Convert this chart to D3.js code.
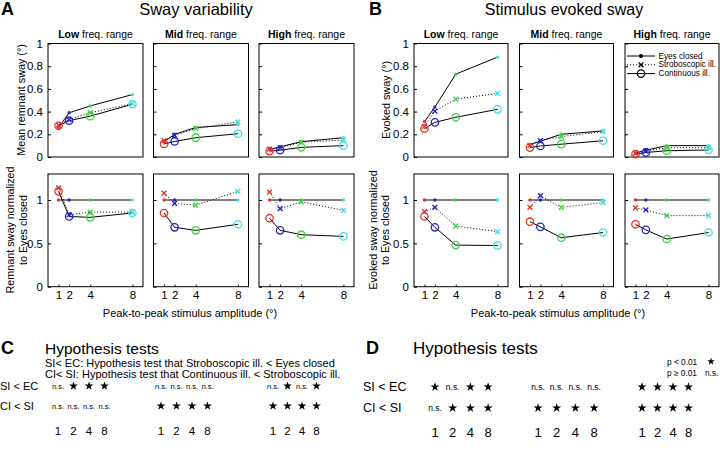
<!DOCTYPE html>
<html><head><meta charset="utf-8">
<script src="https://cdn.jsdelivr.net/npm/d3@7"></script>
<style>body{margin:0;background:#fff}</style>
</head><body><svg id="c" width="720" height="450"></svg>
<script>
// ---------------- DATA ----------------
const amplitudes = [1, 2, 4, 8];
const ampLabels = ["1", "2", "4", "8"];
const ranges = ["Low", "Mid", "High"];
const ampColors = ["#e3342c", "#2424c8", "#3fd23f", "#3ee0e0"];
const conditions = ["Eyes closed", "Stroboscopic ill.", "Continuous ill."];

// A: Sway variability (mean remnant sway, deg) per range [Low, Mid, High], per amplitude
const swayEC = [[0.26, 0.39, 0.45, 0.55], [0.135, 0.20, 0.26, 0.285], [0.065, 0.09, 0.135, 0.17]];
const swaySI = [[0.28, 0.33, 0.39, 0.47], [0.145, 0.19, 0.25, 0.31], [0.07, 0.08, 0.13, 0.15]];
const swayCI = [[0.275, 0.32, 0.36, 0.465], [0.115, 0.137, 0.17, 0.205], [0.052, 0.06, 0.085, 0.10]];
// A: normalized to eyes closed
const normSwayEC = [[1, 1, 1, 1], [1, 1, 1, 1], [1, 1, 1, 1]];
const normSwaySI = [[1.14, 0.83, 0.86, 0.86], [1.08, 0.96, 0.94, 1.10], [1.09, 0.90, 0.98, 0.88]];
const normSwayCI = [[1.10, 0.81, 0.80, 0.85], [0.85, 0.685, 0.65, 0.72], [0.79, 0.65, 0.60, 0.58]];

// B: Stimulus evoked sway (deg)
const evokedEC = [[0.31, 0.44, 0.73, 0.88], [0.11, 0.14, 0.20, 0.23], [0.035, 0.06, 0.10, 0.10]];
const evokedSI = [[0.27, 0.405, 0.51, 0.56], [0.10, 0.145, 0.18, 0.223], [0.032, 0.053, 0.082, 0.082]];
const evokedCI = [[0.25, 0.305, 0.35, 0.42], [0.083, 0.097, 0.113, 0.143], [0.025, 0.04, 0.055, 0.062]];
// B: normalized
const normEvokedEC = [[1, 1, 1, 1], [1, 1, 1, 1], [1, 1, 1, 1]];
const normEvokedSI = [[0.865, 0.915, 0.70, 0.635], [0.915, 1.05, 0.915, 0.97], [0.91, 0.885, 0.82, 0.82]];
const normEvokedCI = [[0.81, 0.685, 0.48, 0.475], [0.75, 0.69, 0.565, 0.625], [0.72, 0.655, 0.55, 0.625]];

const topTicks = [0, 0.2, 0.4, 0.6, 0.8, 1];
const topTickLabels = ["0", "0.2", "0.4", "0.6", "0.8", "1"];
const normTicks = [0, 0.5, 1];
const normTickLabels = ["0", "0.5", "1"];

// Hypothesis tests (per range, per amplitude): "*" = p<0.01, "n.s." = p>=0.01
const testRowLabels = ["SI < EC", "CI < SI"];
const testC_SIEC = [["n.s.", "*", "*", "*"], ["n.s.", "n.s.", "n.s.", "n.s."], ["n.s.", "*", "n.s.", "*"]];
const testC_CISI = [["n.s.", "n.s.", "n.s.", "n.s."], ["*", "*", "*", "*"], ["*", "*", "*", "*"]];
const testD_SIEC = [["*", "n.s.", "*", "*"], ["n.s.", "n.s.", "n.s.", "n.s."], ["*", "*", "*", "*"]];
const testD_CISI = [["n.s.", "*", "*", "*"], ["*", "*", "*", "*"], ["*", "*", "*", "*"]];

// ---------------- DRAWING ----------------
const FONT = '"Liberation Sans", Arial, Helvetica, sans-serif';
const svg = d3.select("#c");

function txt(x, y, s, size, opts = {}) {
  const t = svg.append("text").attr("x", x).attr("y", y).text(s)
    .attr("font-family", FONT).attr("font-size", size).attr("fill", "#000");
  if (opts.anchor) t.attr("text-anchor", opts.anchor);
  if (opts.weight) t.attr("font-weight", opts.weight);
  if (opts.rotate) t.attr("transform", `rotate(-90,${x},${y})`);
  if (opts.baseline) t.attr("dominant-baseline", opts.baseline);
  return t;
}

function drawPanel(px, py, w, h, ymax, ticks, tickLabs, showY, showX, ec, si, ci) {
  const g = svg.append("g");
  const x = d3.scaleLinear().domain([0, 9]).range([px, px + w]);
  const y = d3.scaleLinear().domain([0, ymax]).range([py + h, py]);
  const ya = d3.axisLeft(y).tickValues(ticks).tickSize(-3).tickPadding(5)
    .tickFormat((d, i) => showY ? tickLabs[i] : "");
  g.append("g").attr("transform", `translate(${px},0)`).call(ya)
    .call(s => s.select(".domain").remove())
    .call(s => s.selectAll("text").attr("font-size", 11.5).attr("font-family", FONT).attr("fill", "#000"))
    .call(s => s.selectAll("line").attr("stroke", "#000"));
  if (showX) {
    const xa = d3.axisBottom(x).tickValues(amplitudes).tickSize(-2).tickPadding(4)
      .tickFormat((d, i) => ampLabels[i]);
    g.append("g").attr("transform", `translate(0,${py + h})`).call(xa)
      .call(s => s.select(".domain").remove())
      .call(s => s.selectAll("text").attr("font-size", 11.5).attr("font-family", FONT).attr("fill", "#000"))
      .call(s => s.selectAll("line").attr("stroke", "#000"));
  }
  g.append("rect").attr("x", px).attr("y", py).attr("width", w).attr("height", h)
    .attr("fill", "none").attr("stroke", "#000").attr("stroke-width", 1);
  const line = d3.line().x((d, i) => x(amplitudes[i])).y(d => y(d));
  g.append("path").attr("d", line(ec)).attr("fill", "none").attr("stroke", "#000").attr("stroke-width", 1);
  g.append("path").attr("d", line(si)).attr("fill", "none").attr("stroke", "#000").attr("stroke-width", 1)
    .attr("stroke-dasharray", "1,2");
  g.append("path").attr("d", line(ci)).attr("fill", "none").attr("stroke", "#000").attr("stroke-width", 1);
  // markers
  ec.forEach((v, i) => g.append("circle").attr("cx", x(amplitudes[i])).attr("cy", y(v)).attr("r", 1.7)
    .attr("fill", ampColors[i]));
  si.forEach((v, i) => {
    const cx = x(amplitudes[i]), cy = y(v), r = 2.4;
    g.append("path").attr("d", `M${cx - r},${cy - r}L${cx + r},${cy + r}M${cx - r},${cy + r}L${cx + r},${cy - r}`)
      .attr("stroke", ampColors[i]).attr("stroke-width", 1.4);
  });
  ci.forEach((v, i) => g.append("circle").attr("cx", x(amplitudes[i])).attr("cy", y(v)).attr("r", 3.7)
    .attr("fill", "none").attr("stroke", ampColors[i]).attr("stroke-width", 1.3));
}

const rowTop = { y: 43.5, h: 113.5, max: 1 };
const rowBot = { y: 174, h: 112.7, max: 1.3 };
const sections = [
  { xs: [48, 153.5, 259], w: 95, top: [swayEC, swaySI, swayCI], bot: [normSwayEC, normSwaySI, normSwayCI] },
  { xs: [414, 519.5, 625], w: 94, top: [evokedEC, evokedSI, evokedCI], bot: [normEvokedEC, normEvokedSI, normEvokedCI] }
];
sections.forEach(sec => {
  sec.xs.forEach((px, r) => {
    drawPanel(px, rowTop.y, sec.w, rowTop.h, rowTop.max, topTicks, topTickLabels, r === 0, false,
      sec.top[0][r], sec.top[1][r], sec.top[2][r]);
    drawPanel(px, rowBot.y, sec.w, rowBot.h, rowBot.max, normTicks, normTickLabels, r === 0, true,
      sec.bot[0][r], sec.bot[1][r], sec.bot[2][r]);
    const t = txt(px + sec.w / 2, 38, "", 10.5, { anchor: "middle" });
    t.append("tspan").attr("font-weight", "bold").text(ranges[r]);
    t.append("tspan").text(" freq. range");
  });
});

// titles
txt(1, 15, "A", 18, { weight: "bold" });
txt(196, 14.5, "Sway variability", 16.5, { anchor: "middle" });
txt(369, 15, "B", 18, { weight: "bold" });
txt(564, 14.5, "Stimulus evoked sway", 16, { anchor: "middle" });

// y labels
txt(21, 100, "Mean remnant sway (°)", 10.8, { anchor: "middle", rotate: true, baseline: "central" });
txt(10, 230, "Remnant sway normalized", 10.8, { anchor: "middle", rotate: true, baseline: "central" });
txt(22.5, 230, "to Eyes closed", 10.8, { anchor: "middle", rotate: true, baseline: "central" });
txt(386, 100, "Evoked sway (°)", 10.8, { anchor: "middle", rotate: true, baseline: "central" });
txt(372.5, 230, "Evoked sway normalized", 10.8, { anchor: "middle", rotate: true, baseline: "central" });
txt(385, 230, "to Eyes closed", 10.8, { anchor: "middle", rotate: true, baseline: "central" });

// x labels
txt(190, 317, "Peak-to-peak stimulus amplitude (°)", 11, { anchor: "middle" });
txt(558, 317, "Peak-to-peak stimulus amplitude (°)", 11, { anchor: "middle" });

// legend (in B High top panel)
const legY = [56, 64.8, 73.6];
legY.forEach((ly, i) => {
  const lg = svg.append("g");
  lg.append("line").attr("x1", 627).attr("x2", 655).attr("y1", ly).attr("y2", ly).attr("stroke", "#000")
    .attr("stroke-width", 1).attr("stroke-dasharray", i === 1 ? "1,2" : null);
  const cx = 641;
  if (i === 0) lg.append("circle").attr("cx", cx).attr("cy", ly).attr("r", 2).attr("fill", "#000");
  if (i === 1) lg.append("path").attr("d", `M${cx - 2.4},${ly - 2.4}L${cx + 2.4},${ly + 2.4}M${cx - 2.4},${ly + 2.4}L${cx + 2.4},${ly - 2.4}`)
    .attr("stroke", "#000").attr("stroke-width", 1.3);
  if (i === 2) lg.append("circle").attr("cx", cx).attr("cy", ly).attr("r", 3.7).attr("fill", "none").attr("stroke", "#000").attr("stroke-width", 1.2);
  txt(658.5, ly, conditions[i], 8.2, { baseline: "central" });
});

// hypothesis tests
const star = d3.symbol().type(d3.symbolStar);
function drawTests(data, starts, steps, rowYs, numY, labelX, labelSize, numSize, nsSize, starSize) {
  testRowLabels.forEach((lab, r) => txt(labelX, rowYs[r], lab, labelSize, { baseline: "central" }));
  data.forEach((rowData, r) => {
    rowData.forEach((grp, gi) => {
      grp.forEach((v, j) => {
        const cx = starts[gi] + steps[gi] * j;
        if (v === "*") {
          svg.append("path").attr("d", star.size(starSize)()).attr("transform", `translate(${cx},${rowYs[r]})`).attr("fill", "#000");
        } else {
          txt(cx, rowYs[r], v, nsSize, { anchor: "middle", baseline: "central" });
        }
      });
    });
  });
  starts.forEach((s, gi) => ampLabels.forEach((a, j) =>
    txt(s + steps[gi] * j, numY, a, numSize, { anchor: "middle", baseline: "central" })));
}

txt(1, 354, "C", 18, { weight: "bold" });
txt(45, 354, "Hypothesis tests", 15.5);
txt(45, 362.5, "SI< EC: Hypothesis test that Stroboscopic ill. < Eyes closed", 11, { baseline: "central" });
txt(45, 374, "CI< SI: Hypothesis test that Continuous ill. < Stroboscopic ill.", 11, { baseline: "central" });
drawTests([testC_SIEC, testC_CISI], [58, 161, 273], [15.5, 15.5, 14.5], [386, 406], 431, 0, 11, 11.5, 7.5, 24);

txt(366, 354, "D", 18, { weight: "bold" });
txt(413, 354, "Hypothesis tests", 17);
txt(667, 361.5, "p < 0.01", 8.3, { baseline: "central" });
svg.append("path").attr("d", star.size(18)()).attr("transform", "translate(711,361.5)").attr("fill", "#000");
txt(667, 372.5, "p \u2265 0.01", 8.3, { baseline: "central" });
txt(705, 372.5, "n.s.", 8.3, { baseline: "central" });
drawTests([testD_SIEC, testD_CISI], [435, 538, 642], [17.7, 18.7, 15.5], [387, 408], 432, 363, 12.5, 13, 8.5, 26);
</script>
</body></html>
